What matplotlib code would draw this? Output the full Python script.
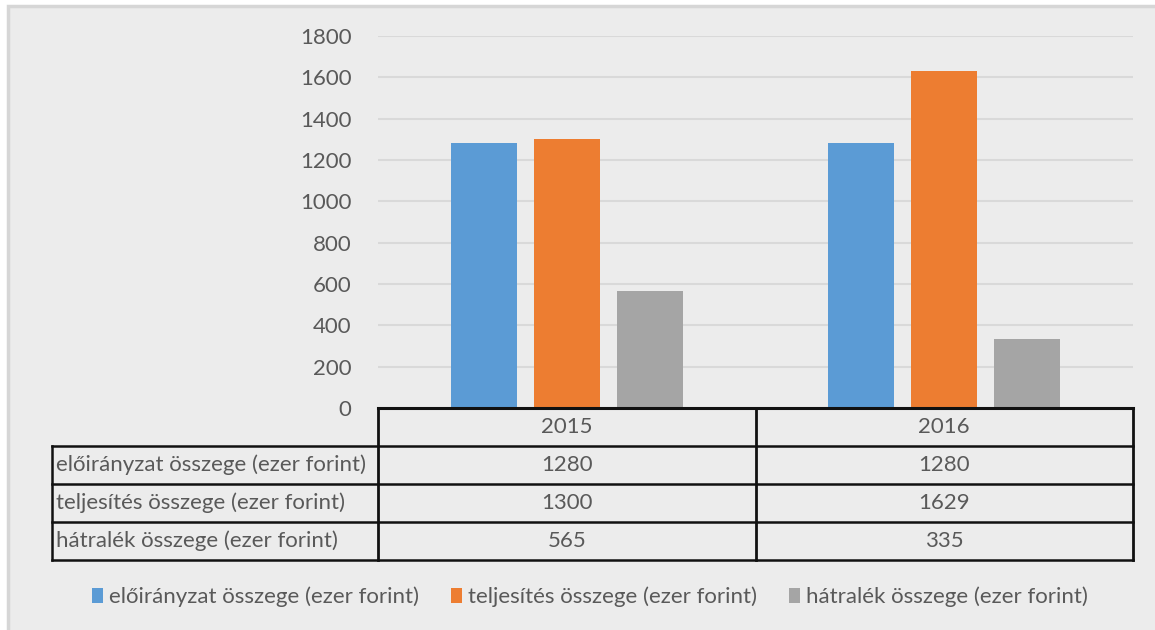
import matplotlib
matplotlib.use("Agg")
import matplotlib.pyplot as plt
from matplotlib.patches import Rectangle
from matplotlib.lines import Line2D

years = ["2015", "2016"]
series_names = [
    "előirányzat összege (ezer forint)",
    "teljesítés összege (ezer forint)",
    "hátralék összege (ezer forint)",
]
eloiranyzat = [1280, 1280]
teljesites = [1300, 1629]
hatralek = [565, 335]
series_values = [eloiranyzat, teljesites, hatralek]
colors = ["#5b9bd5", "#ed7d31", "#a5a5a5"]
y_ticks = [0, 200, 400, 600, 800, 1000, 1200, 1400, 1600, 1800]

W, H = 1155, 630
TXT = "#595959"
FONT = "Lato"
FS = 16

plt.rcParams["font.family"] = [FONT, "DejaVu Sans"]

fig = plt.figure(figsize=(W / 100, H / 100), dpi=100, facecolor="white")


def fx(px):
    return px / W


def fy(py):
    return 1 - py / H


# chart background with light frame on top/left
fig.patches.append(Rectangle((fx(8), fy(H + 10)), fx(W + 10), (H + 4) / H,
                             transform=fig.transFigure, facecolor="#ececec",
                             edgecolor="#d6d6d6", linewidth=2.5, zorder=-5))

left, right, top, bottom = 378, 1133, 36, 408
ax = fig.add_axes([fx(left), fy(bottom), fx(right - left), (bottom - top) / H])
ax.set_facecolor("none")

offsets = [-0.22, 0.0, 0.22]
for vals, off, col in zip(series_values, offsets, colors):
    ax.bar([i + off for i in range(len(years))], vals, width=0.175,
           color=col, zorder=3)

ax.set_xlim(-0.5, len(years) - 0.5)
ax.set_ylim(0, 1800)
ax.set_yticks(y_ticks)
ax.set_yticklabels([str(t) for t in y_ticks], fontsize=FS, color=TXT)
ax.tick_params(axis="y", length=0, pad=19)
ax.set_xticks([])
ax.grid(axis="y", color="#d9d9d9", linewidth=1.5, zorder=0)
for s in ax.spines.values():
    s.set_visible(False)

# data table under the chart
row_h = 38
label_left = 52
col_edges = [left + (right - left) * k / len(years) for k in range(len(years) + 1)]
row_tops = [bottom + row_h * k for k in range(len(series_names) + 2)]


def hline(x0, x1, y, lw):
    fig.add_artist(Line2D([fx(x0), fx(x1)], [fy(y), fy(y)], color="#111111",
                          linewidth=lw, transform=fig.transFigure,
                          solid_capstyle="projecting"))


def vline(x, y0, y1, lw):
    fig.add_artist(Line2D([fx(x), fx(x)], [fy(y0), fy(y1)], color="#111111",
                          linewidth=lw, transform=fig.transFigure,
                          solid_capstyle="projecting"))


hline(left, right, row_tops[0], 2.2)
for y in row_tops[1:]:
    hline(label_left, right, y, 1.8)
vline(label_left, row_tops[1], row_tops[-1], 1.8)
for x in col_edges:
    vline(x, row_tops[0], row_tops[-1], 2.0)

for k, yr in enumerate(years):
    cx = (col_edges[k] + col_edges[k + 1]) / 2
    fig.text(fx(cx), fy(row_tops[0] + row_h / 2), yr, ha="center", va="center",
             fontsize=FS, color=TXT)
for r, (name, vals) in enumerate(zip(series_names, series_values)):
    cy = row_tops[r + 1] + row_h / 2
    fig.text(fx(label_left + 4), fy(cy), name, ha="left", va="center",
             fontsize=FS, color=TXT)
    for k, v in enumerate(vals):
        cx = (col_edges[k] + col_edges[k + 1]) / 2
        fig.text(fx(cx), fy(cy), str(v), ha="center", va="center",
                 fontsize=FS, color=TXT)

# legend
handles = [Rectangle((0, 0), 1, 1, facecolor=c) for c in colors]
fig.legend(handles, series_names, loc="center", bbox_to_anchor=(fx(590), fy(597)),
           ncol=3, frameon=False, fontsize=FS, labelcolor=TXT,
           handlelength=0.5, handleheight=0.7, handletextpad=0.25,
           columnspacing=1.45)

fig.savefig("out.png", dpi=100, facecolor=fig.get_facecolor())
